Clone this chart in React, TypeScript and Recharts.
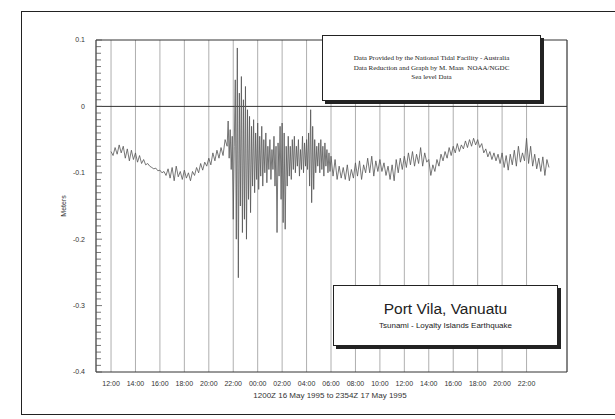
import React from 'react';
import { LineChart, Line, XAxis, YAxis, CartesianGrid, ReferenceLine } from 'recharts';

// ---- data (metres). Hours are counted from 1200Z 16 May 1995 ----

// 12:00 - 18:00, 16 May (10-minute samples)
const may16Afternoon = [
  -0.068, -0.074, -0.062, -0.072, -0.058, -0.070,
  -0.060, -0.078, -0.064, -0.082, -0.066, -0.080,
  -0.070, -0.084, -0.074, -0.086, -0.080, -0.088,
  -0.086, -0.090, -0.092, -0.094, -0.093, -0.097,
  -0.096, -0.100, -0.098, -0.104, -0.094, -0.108,
  -0.092, -0.112, -0.090, -0.106, -0.098, -0.110,
];
// 18:00 - 21:20, 16 May (10-minute samples)
const may16Evening = [
  -0.096, -0.108, -0.100, -0.112, -0.098, -0.104,
  -0.092, -0.100, -0.086, -0.096, -0.084, -0.090,
  -0.078, -0.088, -0.070, -0.082, -0.066, -0.078,
  -0.062, -0.074, -0.050,
];
// 21:30 16 May - 05:55 17 May, tsunami arrival (5-minute samples)
const tsunamiWaves = [
  -0.060, -0.022, -0.078, -0.035, -0.095, -0.045,
  -0.170, -0.060, 0.040, -0.200, 0.088, -0.258, 0.020, -0.150, 0.045, -0.190, 0.010, -0.170,
  0.030, -0.200, -0.005, -0.140, -0.015, -0.160, -0.030, -0.120, -0.020, -0.130, -0.040, -0.110,
  -0.025, -0.125, -0.045, -0.105, -0.030, -0.120, -0.050, -0.100, -0.040, -0.115, -0.060, -0.095,
  -0.050, -0.110, -0.065, -0.095, -0.045, -0.120, -0.060, -0.190, -0.055, -0.105, -0.030, -0.140,
  -0.025, -0.175, -0.040, -0.185, -0.060, -0.120, -0.045, -0.105, -0.060, -0.110, -0.050, -0.095,
  -0.045, -0.100, -0.060, -0.090, -0.050, -0.105, -0.065, -0.095, -0.045, -0.100, -0.055, -0.090,
  -0.050, -0.095, -0.040, -0.120, -0.005, -0.145, -0.030, -0.125, -0.050, -0.100, -0.060, -0.090,
  -0.055, -0.100, -0.050, -0.095, -0.060, -0.105, -0.055, -0.090, -0.065, -0.100, -0.070, -0.098,
];
// 06:00 - 12:00, 17 May (10-minute samples)
const may17Morning = [
  -0.075, -0.105, -0.080, -0.110, -0.090, -0.108,
  -0.092, -0.110, -0.088, -0.112, -0.095, -0.108,
  -0.085, -0.105, -0.082, -0.110, -0.088, -0.100,
  -0.078, -0.100, -0.075, -0.105, -0.082, -0.098,
  -0.080, -0.098, -0.085, -0.104, -0.090, -0.110,
  -0.088, -0.112, -0.080, -0.100, -0.078, -0.095,
];
// 12:00 - 18:00, 17 May (10-minute samples)
const may17Afternoon = [
  -0.075, -0.092, -0.070, -0.088, -0.068, -0.090,
  -0.072, -0.086, -0.062, -0.090, -0.070, -0.084,
  -0.080, -0.104, -0.088, -0.098, -0.080, -0.090,
  -0.072, -0.082, -0.068, -0.078, -0.062, -0.074,
  -0.060, -0.070, -0.056, -0.068, -0.058, -0.064,
  -0.052, -0.062, -0.050, -0.060, -0.048, -0.058,
];
// 18:00 - 23:50, 17 May (10-minute samples)
const may17Evening = [
  -0.050, -0.062, -0.056, -0.070, -0.064, -0.076,
  -0.068, -0.080, -0.070, -0.082, -0.072, -0.086,
  -0.070, -0.092, -0.074, -0.096, -0.072, -0.088,
  -0.066, -0.090, -0.060, -0.084, -0.070, -0.082,
  -0.048, -0.086, -0.060, -0.090, -0.072, -0.094,
  -0.078, -0.098, -0.076, -0.104, -0.080, -0.092,
];

// segment start (hours after 1200Z 16 May) and sample step (minutes)
const segmentStarts = [0, 6, 9.5, 18, 24, 30];
const segmentSteps = [10, 10, 5, 10, 10, 10];
const segments = [may16Afternoon, may16Evening, tsunamiWaves, may17Morning, may17Afternoon, may17Evening];

// ---- axes ----
const hourTicks = [0, 2, 4, 6, 8, 10, 12, 14, 16, 18, 20, 22, 24, 26, 28, 30, 32, 34];
const hourTickLabels = [
  '12:00', '14:00', '16:00', '18:00', '20:00', '22:00', '00:00', '02:00', '04:00',
  '06:00', '08:00', '10:00', '12:00', '14:00', '16:00', '18:00', '20:00', '22:00',
];
const yMajorTicks = [0.1, 0, -0.1, -0.2, -0.3, -0.4];
const yMajorLabels = ['0.1', '0', '-0.1', '-0.2', '-0.3', '-0.4'];

const X_MIN = -1.23;
const X_MAX = 37.31;

const yMinorTicks: number[] = [];
for (let k = 0; k <= 50; k++) yMinorTicks.push(Math.round((0.1 - k * 0.01) * 100) / 100);

const data: { t: number; v: number }[] = [];
segments.forEach((vals, s) => {
  vals.forEach((v, i) => data.push({ t: segmentStarts[s] + (i * segmentSteps[s]) / 60, v }));
});

const SANS = '"Liberation Sans", Arial, sans-serif';
const SERIF = '"Liberation Serif", "Times New Roman", serif';
const Y_TICK_MARGIN = 11;

const YTick = (props: any) => {
  const { x, y, payload } = props;
  const v = payload.value;
  const idx = yMajorTicks.findIndex((m) => Math.abs(m - v) < 1e-9);
  const ax = x + Y_TICK_MARGIN;
  return (
    <g>
      <line x1={ax} x2={ax + (idx >= 0 ? 6 : 5)} y1={y} y2={y} stroke="#555" strokeWidth={0.8} />
      {idx >= 0 && (
        <text x={x} y={y} dy="0.35em" textAnchor="end" fontSize={7} fill="#333" fontFamily={SANS}>
          {yMajorLabels[idx]}
        </text>
      )}
    </g>
  );
};

const abs = (s: React.CSSProperties): React.CSSProperties => ({ position: 'absolute', ...s });

export default function App() {
  return (
    <div style={abs({ left: 0, top: 0, width: 615, height: 419, background: '#fff', overflow: 'hidden' })}>
      <div style={abs({ left: 21, top: 11, width: 620, height: 402, border: '1.5px solid #222' })} />
      <div style={abs({ left: 0, top: 0 })}>
        <LineChart width={615} height={419} data={data} margin={{ top: 40, right: 48, bottom: 17, left: 66 }}>
          <CartesianGrid horizontal={false} stroke="#9a9a9a" strokeWidth={0.8} />
          <XAxis
            dataKey="t"
            type="number"
            domain={[X_MIN, X_MAX]}
            allowDataOverflow
            ticks={hourTicks}
            interval={0}
            tickFormatter={(_v: number, i: number) => hourTickLabels[i]}
            tickLine={false}
            tickSize={0}
            tickMargin={9}
            height={30}
            axisLine={{ stroke: '#333', strokeWidth: 1 }}
            tick={{ fontSize: 7, fill: '#333', fontFamily: SANS }}
          />
          <YAxis
            type="number"
            domain={[-0.4, 0.1]}
            allowDataOverflow
            ticks={yMinorTicks}
            interval={0}
            tickSize={0}
            tickMargin={Y_TICK_MARGIN}
            tickLine={false}
            width={30}
            axisLine={{ stroke: '#333', strokeWidth: 1 }}
            tick={<YTick />}
          />
          <ReferenceLine y={0.1} stroke="#333" strokeWidth={1} />
          <ReferenceLine x={X_MAX} stroke="#333" strokeWidth={1} />
          <ReferenceLine y={0} stroke="#333" strokeWidth={1} />
          <Line
            type="linear"
            dataKey="v"
            stroke="#555"
            strokeWidth={0.8}
            dot={false}
            isAnimationActive={false}
          />
        </LineChart>
      </div>

      {/* Y axis title */}
      <div
        style={abs({
          left: 64 - 30, top: 206 - 5, width: 60, height: 10, lineHeight: '10px', textAlign: 'center',
          fontSize: 7, fontFamily: SANS, color: '#333', transform: 'rotate(-90deg)',
        })}
      >
        Meters
      </div>

      {/* X axis title */}
      <div
        style={abs({
          left: 330 - 120, top: 396 - 6, width: 240, height: 12, lineHeight: '12px', textAlign: 'center',
          fontSize: 8, fontFamily: SANS, color: '#333',
        })}
      >
        1200Z 16 May 1995 to 2354Z 17 May 1995
      </div>

      {/* credits box */}
      <div
        style={abs({
          left: 322, top: 35, width: 217, height: 64, background: '#fff', border: '1px solid #222',
          boxShadow: '3px 3px 0 #222', fontFamily: SERIF, fontSize: 7, color: '#222', textAlign: 'center',
        })}
      >
        <div style={abs({ left: 0, top: 18, width: '100%', lineHeight: '9.5px' })}>
          Data Provided by the National Tidal Facility - Australia
          <br />
          Data Reduction and Graph by M. Maas&nbsp;&nbsp;NOAA/NGDC
          <br />
          Sea level Data
        </div>
      </div>

      {/* title box */}
      <div
        style={abs({
          left: 333, top: 285, width: 223, height: 59, background: '#fff', border: '1px solid #222',
          boxShadow: '3px 3px 0 #222', fontFamily: SANS, color: '#222', textAlign: 'center',
        })}
      >
        <div style={abs({ left: 0, top: 13, width: '100%', fontSize: 15.5, lineHeight: '20px' })}>
          Port Vila, Vanuatu
        </div>
        <div style={abs({ left: 0, top: 34, width: '100%', fontSize: 8, lineHeight: '12px' })}>
          Tsunami - Loyalty Islands Earthquake
        </div>
      </div>
    </div>
  );
}
